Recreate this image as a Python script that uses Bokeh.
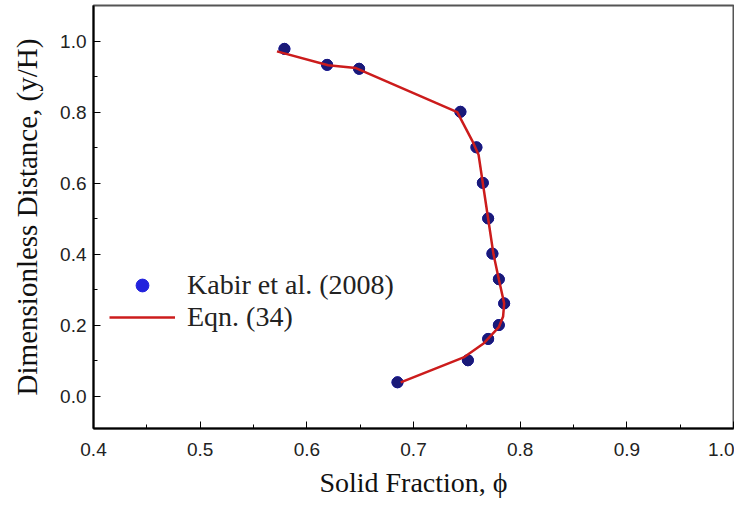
from bokeh.plotting import figure
from bokeh.models import Legend, LegendItem, Range1d, FixedTicker, PrintfTickFormatter
from bokeh.embed import file_html
from bokeh.resources import INLINE

# Kabir et al. (2008) data points
kabir_phi = [0.579, 0.619, 0.649, 0.744, 0.759, 0.765, 0.770, 0.774, 0.780, 0.785, 0.780, 0.770, 0.751, 0.685]
kabir_y = [0.978, 0.933, 0.922, 0.801, 0.701, 0.601, 0.501, 0.402, 0.330, 0.262, 0.201, 0.162, 0.102, 0.040]

# Eqn. (34) curve
eqn_phi = [0.572, 0.620, 0.646, 0.741, 0.755, 0.761, 0.765, 0.770, 0.775, 0.780, 0.785, 0.784, 0.780, 0.766, 0.747, 0.688]
eqn_y = [0.971, 0.932, 0.924, 0.800, 0.720, 0.680, 0.600, 0.500, 0.400, 0.330, 0.262, 0.225, 0.195, 0.150, 0.110, 0.040]

x_ticks = [0.4, 0.5, 0.6, 0.7, 0.8, 0.9, 1.0]
x_minor = [0.45, 0.55, 0.65, 0.75, 0.85, 0.95]
y_ticks = [0.0, 0.2, 0.4, 0.6, 0.8, 1.0]
y_minor = [0.1, 0.3, 0.5, 0.7, 0.9]

series_names = ["Kabir et al. (2008)", "Eqn. (34)"]

p = figure(width=734, height=500, output_backend="svg", toolbar_location=None,
           x_range=Range1d(0.4, 1.0), y_range=Range1d(-0.09, 1.1),
           min_border_left=93, min_border_right=1, min_border_top=5, min_border_bottom=72)

p.background_fill_color = "white"
p.border_fill_color = "white"
p.grid.visible = False
p.outline_line_color = "#555555"
p.outline_line_width = 2

tick_font = "'Liberation Sans Narrow', 'Liberation Sans', sans-serif"
label_font = "Liberation Serif"

p.xaxis.ticker = FixedTicker(ticks=x_ticks, minor_ticks=x_minor)
p.yaxis.ticker = FixedTicker(ticks=y_ticks, minor_ticks=y_minor)
p.xaxis.formatter = PrintfTickFormatter(format="%.1f")
p.yaxis.formatter = PrintfTickFormatter(format="%.1f")

for ax in (p.xaxis[0], p.yaxis[0]):
    ax.axis_line_color = "black"
    ax.axis_line_width = 2
    ax.major_tick_line_color = "black"
    ax.minor_tick_line_color = "black"
    ax.major_tick_in = 7
    ax.major_tick_out = 0
    ax.minor_tick_in = 4
    ax.minor_tick_out = 0
    ax.major_label_text_font = tick_font
    ax.major_label_text_font_size = "19px"
    ax.major_label_text_color = "#222222"
    ax.axis_label_text_font = label_font
    ax.axis_label_text_font_style = "normal"
    ax.axis_label_text_color = "#111111"

p.xaxis.axis_label = "Solid Fraction, \u03d5"
p.yaxis.axis_label = "Dimensionless Distance, (y/H)"
p.xaxis.axis_label_text_font_size = "28px"
p.yaxis.axis_label_text_font_size = "29px"
p.xaxis.major_label_standoff = 14
p.xaxis.axis_label_standoff = 8
p.yaxis.major_label_standoff = 7
p.yaxis.axis_label_standoff = 14

# legend proxy marker (bright blue), covered by the data markers
leg_pts = p.scatter(kabir_phi, kabir_y, size=11, marker="circle",
                    fill_color="#2222dd", line_color="#2222dd")
pts = p.scatter(kabir_phi, kabir_y, size=11, marker="circle",
                fill_color="#1a1a78", line_color="#1a1a78")
ln = p.line(eqn_phi, eqn_y, line_color="#cc1c1c", line_width=2.5)

legend = Legend(items=[LegendItem(label=series_names[0], renderers=[leg_pts]),
                       LegendItem(label=series_names[1], renderers=[ln])],
                location=(16, 95), border_line_alpha=0, background_fill_alpha=0,
                glyph_width=66, glyph_height=32, label_height=32, label_standoff=12,
                padding=0, margin=0, spacing=-2,
                label_text_font=label_font, label_text_font_size="28px",
                label_text_color="#222222")
p.add_layout(legend)

open("out.html", "w").write(file_html(p, INLINE))
